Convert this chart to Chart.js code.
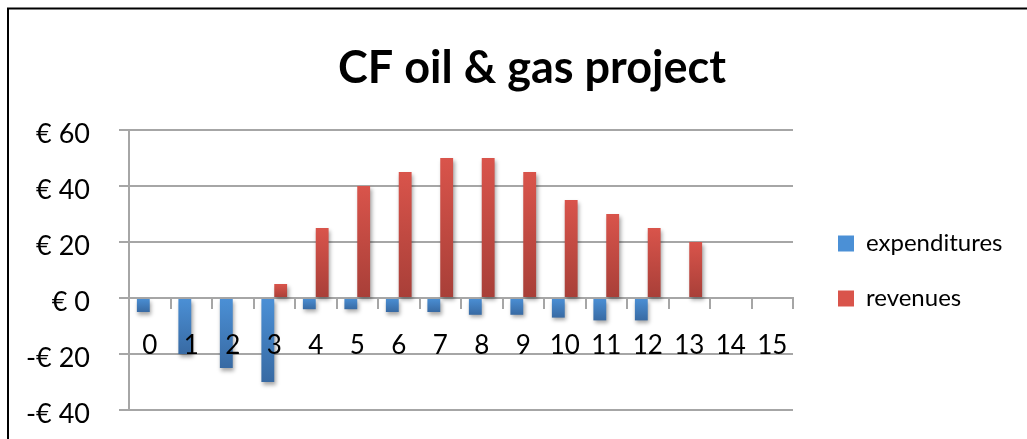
<!DOCTYPE html>
<html>
<head>
<meta charset="utf-8">
<title>CF oil &amp; gas project</title>
<script src="https://cdn.jsdelivr.net/npm/chart.js@4/dist/chart.umd.min.js"></script>
<style>
  html, body { margin: 0; padding: 0; background: #ffffff; }
  canvas { display: block; }
</style>
</head>
<body>
<canvas id="cf" width="1027" height="439"></canvas>
<script>
// Project years and cash flows (in €)
const years = ['0', '1', '2', '3', '4', '5', '6', '7', '8', '9', '10', '11', '12', '13', '14', '15'];
const expenditures = [-5, -20, -25, -30, -4, -4, -5, -5, -6, -6, -7, -8, -8, 0, 0, 0];
const revenues = [0, 0, 0, 5, 25, 40, 45, 50, 50, 45, 35, 30, 25, 20, 0, 0];
const yTicks = [-40, -20, 0, 20, 40, 60];

const euro = v => (v < 0 ? '-' : '') + '€ ' + Math.abs(v);

const FONT = 'Lato, "Open Sans", "DejaVu Sans", sans-serif';
const GRID = '#a6a6a6';

// Per-bar vertical gradient: lighter at the top, darker at the bottom
function barFill(light, dark) {
  return ctx => {
    if (ctx.type !== 'data') return light;
    const chart = ctx.chart;
    const y = chart.scales.y;
    if (!y || !chart.chartArea) return light;
    const v = ctx.raw || 0;
    const p0 = y.getPixelForValue(0);
    const p1 = y.getPixelForValue(v);
    const top = Math.min(p0, p1), bottom = Math.max(p0, p1);
    if (bottom - top < 1) return light;
    const g = chart.ctx.createLinearGradient(0, top, 0, bottom);
    g.addColorStop(0, light);
    g.addColorStop(1, dark);
    return g;
  };
}

// Frame around the chart object
const frame = {
  id: 'frame',
  beforeDraw(chart) {
    const c = chart.ctx;
    c.save();
    c.fillStyle = '#ffffff';
    c.fillRect(0, 0, chart.width, chart.height);
    c.strokeStyle = '#000000';
    c.lineWidth = 2;
    c.strokeRect(8, 8.5, chart.width + 40, chart.height + 40);
    c.restore();
  }
};

// Soft drop shadow under the bars
const barShadow = {
  id: 'barShadow',
  beforeDatasetsDraw(chart) {
    const c = chart.ctx;
    c.save();
    c.shadowColor = 'rgba(0,0,0,0.35)';
    c.shadowBlur = 4;
    c.shadowOffsetX = 1.5;
    c.shadowOffsetY = 2.5;
  },
  afterDatasetsDraw(chart) {
    chart.ctx.restore();
  }
};

// Fixed-width legend column, title centred on the whole chart object
const LEGEND_WIDTH = 226;
const LEGEND_INSET_X = 14;
const LEGEND_INSET_Y = 1;
const TITLE_SHIFT_X = 12.5;
const boxTweaks = {
  id: 'boxTweaks',
  beforeLayout(chart) {
    const lg = chart.legend;
    if (lg && !lg.__fixedWidth) {
      const fit = lg.fit;
      lg.fit = function () {
        fit.call(this);
        this.width = LEGEND_WIDTH;
      };
      lg.__fixedWidth = true;
    }
  },
  afterLayout(chart) {
    const lg = chart.legend;
    if (lg) {
      lg.left += LEGEND_INSET_X;
      lg.right += LEGEND_INSET_X;
      lg.top += LEGEND_INSET_Y;
      lg.bottom += LEGEND_INSET_Y;
    }
    const t = chart.titleBlock;
    if (t) {
      t.left += TITLE_SHIFT_X;
      t.right += TITLE_SHIFT_X;
    }
  }
};

new Chart(document.getElementById('cf'), {
  type: 'bar',
  data: {
    labels: years,
    datasets: [
      {
        label: 'expenditures',
        data: expenditures,
        backgroundColor: barFill('#4b90d6', '#386aa3'),
        borderWidth: 0
      },
      {
        label: 'revenues',
        data: revenues,
        backgroundColor: barFill('#d9544b', '#a83f38'),
        borderWidth: 0
      }
    ]
  },
  options: {
    responsive: false,
    devicePixelRatio: 1,
    animation: false,
    datasets: {
      bar: { categoryPercentage: 0.62, barPercentage: 1.0 }
    },
    layout: {
      padding: { left: 20, right: 8, top: 8, bottom: 29 }
    },
    plugins: {
      tooltip: { enabled: false },
      title: {
        display: true,
        text: 'CF oil & gas project',
        color: '#000000',
        font: { family: FONT, size: 45, weight: 'bold', lineHeight: 1.2 },
        padding: { top: 33, bottom: 35 }
      },
      legend: {
        position: 'right',
        fullSize: false,
        labels: {
          color: '#000000',
          font: { family: FONT, size: 24 },
          boxWidth: 16,
          boxHeight: 16,
          padding: 31
        }
      }
    },
    scales: {
      x: {
        position: { y: 0 },
        offset: true,
        grid: {
          offset: true,
          drawOnChartArea: false,
          drawTicks: true,
          tickLength: 10,
          color: GRID,
          lineWidth: 2
        },
        border: { display: true, color: GRID, width: 2 },
        ticks: {
          z: 1,
          color: '#000000',
          font: { family: FONT, size: 26 },
          padding: 22,
          maxRotation: 0,
          autoSkip: false
        },
        afterFit(scale) { scale.height = 0; }
      },
      y: {
        min: yTicks[0],
        max: yTicks[yTicks.length - 1],
        afterBuildTicks(scale) {
          scale.ticks = yTicks.map(v => ({ value: v }));
        },
        grid: {
          color: GRID,
          lineWidth: 2,
          drawTicks: true,
          tickLength: 10
        },
        border: { display: true, color: GRID, width: 2 },
        ticks: {
          color: '#000000',
          font: { family: FONT, size: 27 },
          padding: 29,
          labelOffset: 4,
          callback: v => euro(v)
        },
        afterFit(scale) {
          scale.width = 109;
          // only half a label needs to overhang the plot vertically
          scale.paddingTop = 16;
          scale.paddingBottom = 16;
        }
      }
    }
  },
  plugins: [frame, barShadow, boxTweaks]
});
</script>
</body>
</html>
